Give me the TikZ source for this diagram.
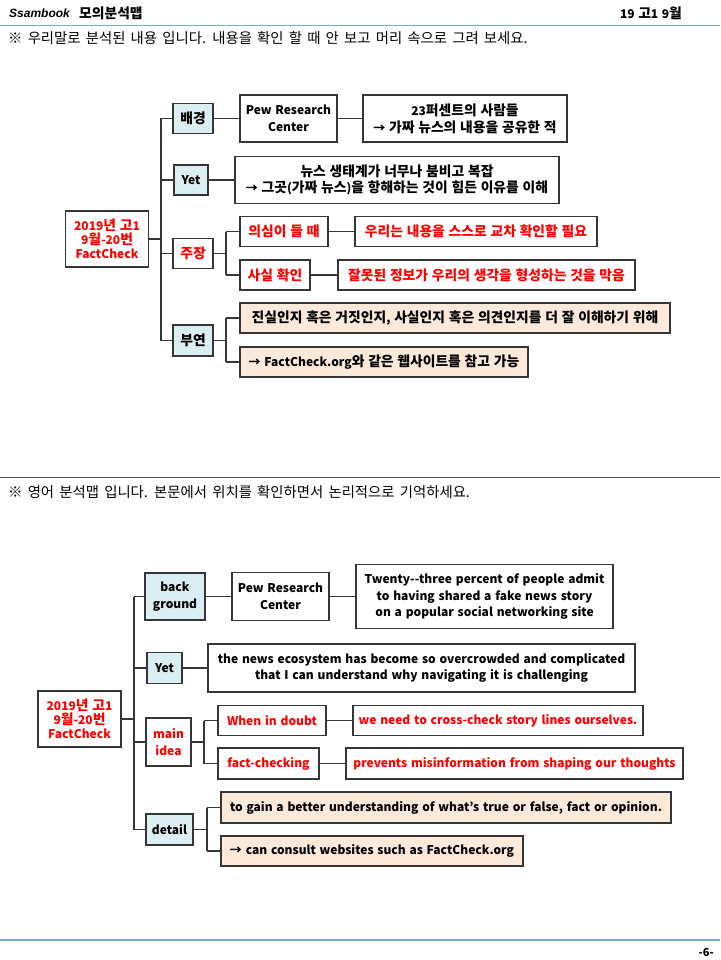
\documentclass[tikz,border=0pt]{standalone}
\usepackage{fontspec}
\setmainfont{Noto Sans CJK KR}
\newfontfamily\krfam{Noto Sans CJK KR}[Scale=1.15]
\newfontfamily\logofont{Liberation Sans}
\newcommand\K[1]{{\krfam #1}}
\definecolor{lineC}{HTML}{363636}
\definecolor{blueF}{HTML}{DAEEF3}
\definecolor{peachF}{HTML}{FDE9D9}
\definecolor{redT}{HTML}{FF0000}
\definecolor{hdrblue}{HTML}{7EA8D8}
\definecolor{sepgray}{HTML}{505050}
\newcommand\bxfont{\bfseries\fontsize{12}{16.7}\selectfont\spaceskip 3.8pt\relax}
\newcommand\rootfont{\bfseries\fontsize{12}{14}\selectfont\spaceskip 3.8pt\relax}
\newcommand\notefont{\fontsize{12.5}{14}\selectfont\spaceskip 5.2pt\relax}
\newcommand\datefont{\bfseries\fontsize{12}{15}\selectfont\spaceskip 3.5pt\relax}
\tikzset{
  bx/.style={draw=lineC, line width=1.3pt, inner sep=0pt, align=center, fill=white, font=\bxfont},
  sz/.style 2 args={minimum width=#1, minimum height=#2},
  blu/.style={fill=blueF},
  pch/.style={fill=peachF},
  rd/.style={text=redT},
  rootbox/.style={bx, rd, font=\rootfont},
  cn/.style={draw=lineC, line width=1.3pt},
  notetxt/.style={anchor=west, inner sep=0pt, font=\notefont},
}
\begin{document}
\begin{tikzpicture}[x=1pt, y=-1pt]
\useasboundingbox[fill=white] (0,0) rectangle (720,960);

% header
\node[anchor=west, inner sep=0pt, font=\logofont\bfseries\itshape\fontsize{12}{13}\selectfont] (logo) at (9,13) {Ssambook};
\node[anchor=west, inner sep=0pt, font=\bfseries\fontsize{12}{15}\selectfont] (title) at (79,13) {\K{모의분석맵}};
\node[anchor=east, inner sep=0pt, font=\datefont] (date) at (682,13) {19 \K{고}1 9\K{월}};
\draw[hdrblue, line width=1.5pt] (0,25.5) -- (720,25.5);
\node[notetxt] (note1) at (8,38) {\K{※ 우리말로 분석된 내용 입니다. 내용을 확인 할 때 안 보고 머리 속으로 그려 보세요.}};

% ---------- upper map ----------
\node[rootbox, sz={83}{56}] (root1) at (107,239) {2019\K{년 고}1\\9\K{월}-20\K{번}\\FactCheck};
\node[bx, blu, sz={40}{30}] (a1) at (193,118.5) {\K{배경}};
\node[bx, blu, sz={34}{30}] (a2) at (191,180) {Yet};
\node[bx, rd, sz={40}{30}] (a3) at (193,253.25) {\K{주장}};
\node[bx, blu, sz={40}{31}] (a4) at (193,340.5) {\K{부연}};

\node[bx, sz={97}{47}] (p1) at (288.5,118.5) {Pew Research\\Center};
\node[bx, sz={204}{47}] (p2) at (465,118.5) {23\K{퍼센트의 사람들}\\→ \K{가짜 뉴스의 내용을 공유한 적}};
\node[bx, sz={324}{47}] (y1) at (397,180) {\K{뉴스 생태계가 너무나 붐비고 복잡}\\→ \K{그곳}(\K{가짜 뉴스})\K{을 항해하는 것이 힘든 이유를 이해}};
\node[bx, rd, sz={88}{30}] (m1) at (284,231.5) {\K{의심이 들 때}};
\node[bx, rd, sz={242}{30}] (m2) at (476,231.5) {\K{우리는 내용을 스스로 교차 확인할 필요}};
\node[bx, rd, sz={70}{30}] (m3) at (275,275) {\K{사실 확인}};
\node[bx, rd, sz={297}{30}] (m4) at (486.5,275) {\K{잘못된 정보가 우리의 생각을 형성하는 것을 막음}};
\node[bx, pch, sz={430}{30}] (d1) at (455,318) {\K{진실인지 혹은 거짓인지}, \K{사실인지 혹은 의견인지를 더 잘 이해하기 위해}};
\node[bx, pch, sz={288}{30}] (d2) at (384,362) {→ FactCheck.org\K{와 같은 웹사이트를 참고 가능}};

\coordinate (T1) at (161,239);
\coordinate (S1) at (226,253.25);
\coordinate (S2) at (226,340.5);
\draw[cn] (root1.east) -- (T1);
\draw[cn] (T1 |- a1.west) -- (T1 |- a4.west);
\foreach \n in {a1,a2,a3,a4} \draw[cn] (T1 |- \n.west) -- (\n.west);
\draw[cn] (a1.east) -- (p1.west);
\draw[cn] (p1.east) -- (p2.west);
\draw[cn] (a2.east) -- (y1.west);
\draw[cn] (a3.east) -- (S1);
\draw[cn] (S1 |- m1.west) -- (S1 |- m3.west);
\draw[cn] (S1 |- m1.west) -- (m1.west);
\draw[cn] (S1 |- m3.west) -- (m3.west);
\draw[cn] (m1.east) -- (m2.west);
\draw[cn] (m3.east) -- (m4.west);
\draw[cn] (a4.east) -- (S2);
\draw[cn] (S2 |- d1.west) -- (S2 |- d2.west);
\draw[cn] (S2 |- d1.west) -- (d1.west);
\draw[cn] (S2 |- d2.west) -- (d2.west);

% separator
\draw[sepgray, line width=1.2pt] (0,477.5) -- (720,477.5);
\node[notetxt] (note2) at (8,492) {\K{※ 영어 분석맵 입니다. 본문에서 위치를 확인하면서 논리적으로 기억하세요.}};

% ---------- lower map ----------
\node[rootbox, sz={83}{56}] (root2) at (79.5,719) {2019\K{년 고}1\\9\K{월}-20\K{번}\\FactCheck};
\node[bx, blu, sz={60}{47}] (b1) at (175,596.5) {back\\ground};
\node[bx, blu, sz={35}{31}] (b2) at (164.5,668) {Yet};
\node[bx, rd, sz={45}{48}] (b3) at (168.5,742) {main\\idea};
\node[bx, blu, sz={47}{31}] (b4) at (169.5,829.5) {detail};

\node[bx, sz={97}{48}] (q1) at (280.5,596.5) {Pew Research\\Center};
\node[bx, sz={257}{64}] (q2) at (484.5,596.5) {Twenty-\kern0pt-three percent of people admit\\to having shared a fake news story\\on a popular social networking site};
\node[bx, sz={427}{48}] (r1) at (421.5,668) {the news ecosystem has become so overcrowded and complicated\\that I can understand why navigating it is challenging};
\node[bx, rd, sz={108}{30}] (n1) at (272,720.5) {When in doubt};
\node[bx, rd, sz={290}{30}] (n2) at (498,720.5) {we need to cross-check story lines ourselves.};
\node[bx, rd, sz={101}{31}] (n3) at (268.5,763.5) {fact-checking};
\node[bx, rd, sz={337}{31}] (n4) at (514.5,763.5) {prevents misinformation from shaping our thoughts};
\node[bx, pch, sz={450}{31}] (e1) at (446,807.5) {to gain a better understanding of what’s true or false, fact or opinion.};
\node[bx, pch, sz={302}{30}] (e2) at (372,851) {→ can consult websites such as FactCheck.org};

\coordinate (T2) at (134,719);
\coordinate (S3) at (204,742);
\coordinate (S4) at (207,829.5);
\draw[cn] (root2.east) -- (T2);
\draw[cn] (T2 |- b1.west) -- (T2 |- b4.west);
\foreach \n in {b1,b2,b3,b4} \draw[cn] (T2 |- \n.west) -- (\n.west);
\draw[cn] (b1.east) -- (q1.west);
\draw[cn] (q1.east) -- (q2.west);
\draw[cn] (b2.east) -- (r1.west);
\draw[cn] (b3.east) -- (S3);
\draw[cn] (S3 |- n1.west) -- (S3 |- n3.west);
\draw[cn] (S3 |- n1.west) -- (n1.west);
\draw[cn] (S3 |- n3.west) -- (n3.west);
\draw[cn] (n1.east) -- (n2.west);
\draw[cn] (n3.east) -- (n4.west);
\draw[cn] (b4.east) -- (S4);
\draw[cn] (S4 |- e1.west) -- (S4 |- e2.west);
\draw[cn] (S4 |- e1.west) -- (e1.west);
\draw[cn] (S4 |- e2.west) -- (e2.west);

% footer
\draw[hdrblue, line width=1.5pt] (0,940) -- (720,940);
\node[anchor=east, inner sep=0pt, font=\bfseries\fontsize{11}{13}\selectfont] (pg) at (714,952) {-6-};
\end{tikzpicture}
\end{document}
